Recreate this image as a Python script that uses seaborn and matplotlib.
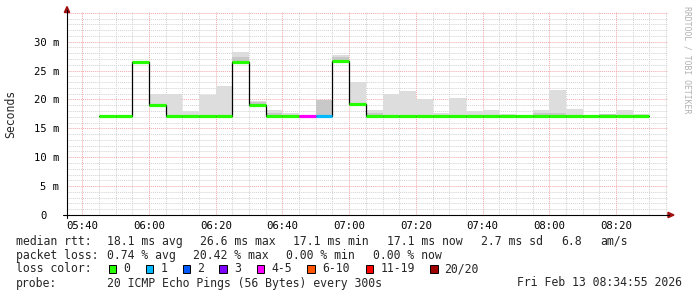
import numpy as np
import pandas as pd
import matplotlib
matplotlib.use("Agg")
import matplotlib.pyplot as plt
from matplotlib.patches import Rectangle, Polygon
from matplotlib.lines import Line2D
from matplotlib.transforms import ScaledTranslation
import seaborn as sns

# ---------------- data ----------------
interval_start = ["05:45", "05:50", "05:55", "06:00", "06:05", "06:10", "06:15", "06:20",
                  "06:25", "06:30", "06:35", "06:40", "06:45", "06:50", "06:55", "07:00",
                  "07:05", "07:10", "07:15", "07:20", "07:25", "07:30", "07:35", "07:40",
                  "07:45", "07:50", "07:55", "08:00", "08:05", "08:10", "08:15", "08:20",
                  "08:25"]
median_ms = [17.1, 17.1, 26.5, 19.1, 17.1, 17.1, 17.1, 17.1,
             26.5, 19.1, 17.1, 17.1, 17.1, 17.2, 26.6, 19.3,
             17.2, 17.1, 17.2, 17.1, 17.1, 17.1, 17.2, 17.1,
             17.1, 17.1, 17.1, 17.2, 17.2, 17.1, 17.1, 17.1,
             17.1]
smoke_max_ms = [17.1, 17.1, 26.5, 20.9, 20.9, 18.0, 20.7, 22.4,
                28.3, 19.7, 18.1, 17.6, 17.1, 19.9, 27.7, 23.1,
                18.1, 20.9, 21.4, 20.0, 17.6, 20.2, 18.0, 18.1,
                17.4, 17.2, 18.1, 21.7, 18.3, 17.1, 17.4, 18.1,
                17.4]
smoke_mid_ms = [17.1, 17.1, 26.5, 19.1, 17.1, 17.1, 17.1, 17.1,
                27.3, 19.5, 17.6, 17.1, 17.1, 19.9, 27.3, 19.3,
                17.6, 17.1, 17.2, 17.1, 17.1, 17.1, 17.2, 17.1,
                17.1, 17.1, 17.6, 17.6, 17.2, 17.1, 17.4, 17.1,
                17.1]
lost_pings = [0, 0, 0, 0, 0, 0, 0, 0,
              0, 0, 0, 0, 4, 1, 0, 0,
              0, 0, 0, 0, 0, 0, 0, 0,
              0, 0, 0, 0, 0, 0, 0, 0,
              0]

x_tick_labels = ["05:40", "06:00", "06:20", "06:40", "07:00", "07:20", "07:40", "08:00", "08:20"]
y_tick_values = [0, 5, 10, 15, 20, 25, 30]
y_tick_labels = ["0", "5 m", "10 m", "15 m", "20 m", "25 m", "30 m"]

loss_labels = ["0", "1", "2", "3", "4-5", "6-10", "11-19", "20/20"]
loss_colors = ["#26ff00", "#00b8ff", "#0059ff", "#7e00ff", "#ff00ff", "#ff5500", "#ff0000", "#a10000"]

stats_rtt = ["18.1 ms avg", "26.6 ms max", "17.1 ms min", "17.1 ms now", "2.7 ms sd", "6.8", "am/s"]
stats_loss = ["0.74 % avg", "20.42 % max", "0.00 % min", "0.00 % now"]
probe_text = "20 ICMP Echo Pings (56 Bytes) every 300s"
date_text = "Fri Feb 13 08:34:55 2026"


def to_min(s):
    h, m = s.split(":")
    return int(h) * 60 + int(m)


def loss_color(n):
    if n == 0:
        return loss_colors[0]
    if n == 1:
        return loss_colors[1]
    if n == 2:
        return loss_colors[2]
    if n == 3:
        return loss_colors[3]
    if n <= 5:
        return loss_colors[4]
    if n <= 10:
        return loss_colors[5]
    if n <= 19:
        return loss_colors[6]
    return loss_colors[7]


starts = np.array([to_min(s) for s in interval_start], dtype=float)
ends = starts + 5
med = np.array(median_ms)
df = pd.DataFrame({"minute": np.append(starts, ends[-1]),
                   "median": np.append(med, med[-1])})

# ---------------- figure ----------------
W, H = 697, 297
sns.set_style("white")
plt.rcParams["font.family"] = ["DejaVu Sans Mono", "DejaVu Sans"]
fig = plt.figure(figsize=(W / 100, H / 100), dpi=100, facecolor="white")

def fx(px):
    return px / W

def fy(py):
    return 1 - py / H

ax_l, ax_r, ax_t, ax_b = 67, 668, 12, 215
ax = fig.add_axes([fx(ax_l), fy(ax_b), (ax_r - ax_l) / W, (ax_b - ax_t) / H])
ax.set_facecolor("white")

x0 = 340 - (82.3 - ax_l) / 3.3356
x1 = 500 + (ax_r - 616) / 3.3356
ax.set_xlim(x0, x1)
ax.set_ylim(0, (ax_b - ax_t) / 5.777)

# grid
minor_x = np.arange(340, 520, 5)
major_x = np.array([to_min(s) for s in x_tick_labels], dtype=float)
for v in minor_x:
    if v not in major_x and x0 < v < x1:
        ax.axvline(v, color="#d2d2d2", lw=0.7, ls=(0, (1, 1)), zorder=0.5)
for v in np.arange(1, 36, 1):
    if v % 5 != 0:
        ax.axhline(v, color="#d2d2d2", lw=0.7, ls=(0, (1, 1)), zorder=0.5)
for v in major_x:
    ax.axvline(v, color="#f2a8a8", lw=0.7, ls=(0, (1, 1)), zorder=0.6)
for v in y_tick_values[1:] + [35]:
    ax.axhline(v, color="#f2a8a8", lw=0.7, ls=(0, (1, 1)), zorder=0.6)

# smoke
ax.bar(starts, np.array(smoke_max_ms) - med, width=5, bottom=med, align="edge",
       color="#dddddd", linewidth=0, zorder=1)
ax.bar(starts, np.array(smoke_mid_ms) - med, width=5, bottom=med, align="edge",
       color="#c8c8c8", linewidth=0, zorder=1.1)

# black step line
sns.lineplot(data=df, x="minute", y="median", drawstyle="steps-post", color="black",
             lw=0.9, estimator=None, ax=ax, zorder=2)

# coloured median segments
ax.hlines(med, starts, ends, colors=[loss_color(n) for n in lost_pings], lw=2.3,
          zorder=3, capstyle="butt")

# ticks
ax.set_xticks(major_x)
ax.set_xticklabels(x_tick_labels)
ax.set_yticks(y_tick_values)
ax.set_yticklabels(y_tick_labels)
ax.tick_params(axis="x", length=0, pad=4, labelsize=7.7, colors="black")
ax.tick_params(axis="y", length=0, pad=5.5, labelsize=7.6, colors="black")
for lab in ax.get_yticklabels():
    if lab.get_text() == "0":
        lab.set_transform(lab.get_transform() + ScaledTranslation(-12.5 / 100, 0, fig.dpi_scale_trans))
ax.set_xlabel("")
ax.set_ylabel("")
for s in ax.spines.values():
    s.set_visible(False)

# axis lines and arrows
fig.add_artist(Line2D([fx(63), fx(669)], [fy(215), fy(215)], color="black", lw=0.8))
fig.add_artist(Line2D([fx(67), fx(67)], [fy(218), fy(10)], color="black", lw=0.8))
fig.add_artist(Polygon([[fx(668), fy(212.3)], [fx(668), fy(217.7)], [fx(674), fy(215)]],
                       closed=True, color="#a01010"))
fig.add_artist(Polygon([[fx(64.3), fy(12.5)], [fx(69.7), fy(12.5)], [fx(67), fy(6.5)]],
                       closed=True, color="#a01010"))

# y label and watermark
fig.text(fx(10.5), fy(114), "Seconds", rotation=90, fontsize=8.3, ha="center", va="center")
fig.text(fx(687.5), fy(60), "RRDTOOL / TOBI OETIKER", rotation=-90, fontsize=5.9,
         color="#b0b0b0", ha="center", va="center")

# legend/statistics
fs = 8.3
rows_y = [241.5, 255.3, 269.0, 283.0]
fig.text(fx(16), fy(rows_y[0]), "median rtt:", fontsize=fs, va="center")
for xpos, t in zip([107.3, 200, 293.3, 386.7, 481, 561, 600], stats_rtt):
    fig.text(fx(xpos), fy(rows_y[0]), t, fontsize=fs, va="center")
fig.text(fx(16), fy(rows_y[1]), "packet loss:", fontsize=fs, va="center")
for xpos, t in zip([107.3, 193.3, 286, 372.7], stats_loss):
    fig.text(fx(xpos), fy(rows_y[1]), t, fontsize=fs, va="center")
fig.text(fx(16), fy(rows_y[2]), "loss color:", fontsize=fs, va="center")
box_x = [108.7, 145.7, 182.7, 219.3, 256.7, 307.3, 365.7, 430]
for bx, lab, col in zip(box_x, loss_labels, loss_colors):
    fig.add_artist(Rectangle((fx(bx), fy(273.2)), 7.6 / W, 8.0 / H, facecolor=col,
                             edgecolor="black", lw=0.7))
    fig.text(fx(bx + 14.5), fy(rows_y[2]), lab, fontsize=fs, va="center")
fig.text(fx(16), fy(rows_y[3]), "probe:", fontsize=fs, va="center")
fig.text(fx(107.3), fy(rows_y[3]), probe_text, fontsize=fs, va="center")
fig.text(fx(682), fy(rows_y[3]), date_text, fontsize=fs, va="center", ha="right")

fig.savefig("out.png", dpi=100, facecolor="white")
